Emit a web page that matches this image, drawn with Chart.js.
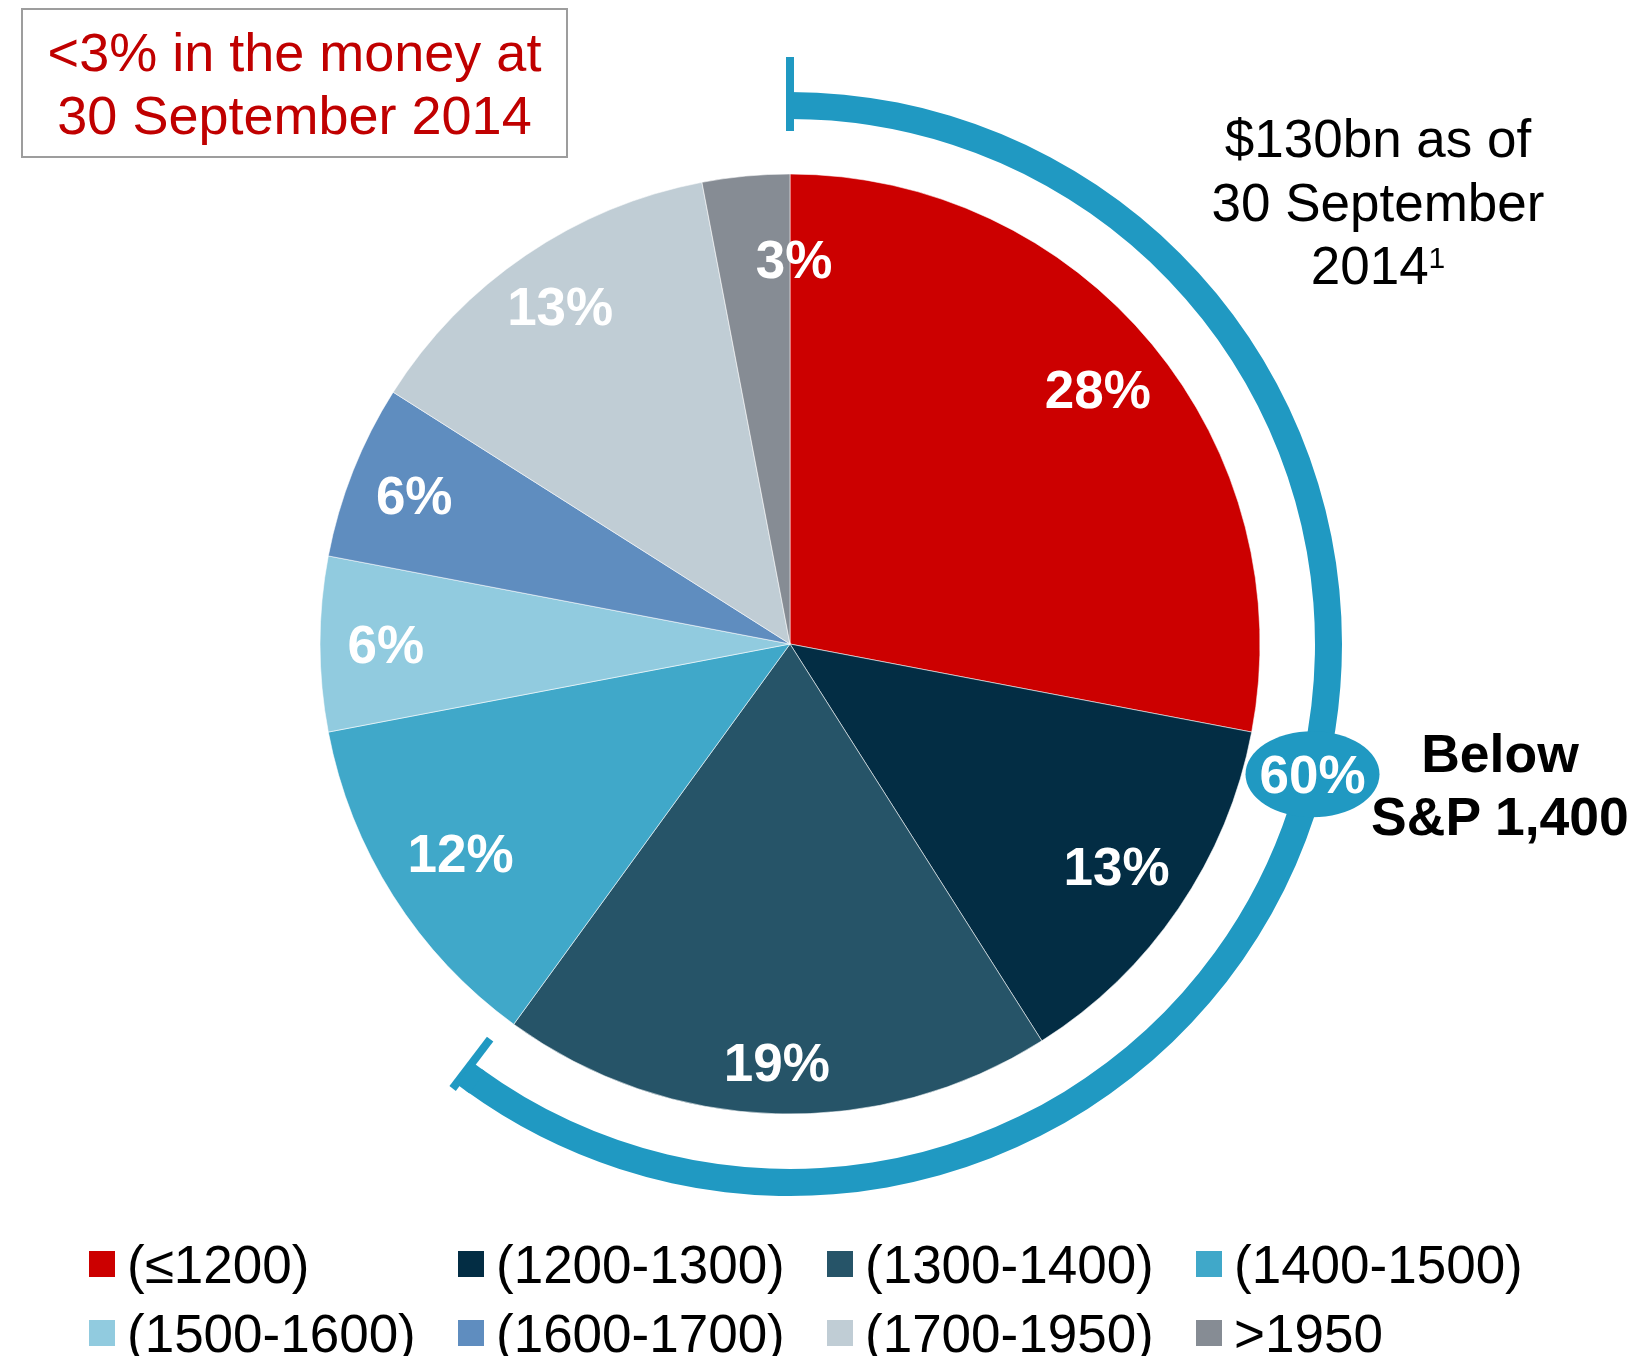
<!DOCTYPE html>
<html>
<head>
<meta charset="utf-8">
<script src="https://cdn.jsdelivr.net/npm/chart.js@4/dist/chart.umd.min.js"></script>
<style>
body{margin:0;background:#fff;font-family:"Liberation Sans",Arial,sans-serif;}
#wrap{position:relative;width:1639px;height:1356px;overflow:hidden;background:#fff;}
canvas{position:absolute;left:0;top:0;}
.note{position:absolute;text-align:center;font-size:53px;line-height:63px;white-space:nowrap;}
#box{position:absolute;left:21px;top:8px;width:547px;height:150px;box-sizing:border-box;border:2px solid #9d9d9d;}
.key{position:absolute;width:26px;height:26px;}
.keytxt{position:absolute;font-size:53px;line-height:63px;white-space:nowrap;color:#000;}
</style>
</head>
<body>
<div id="wrap">
  <canvas id="graph" width="1639" height="1356"></canvas>
  <div id="box"></div>
  <div class="note" style="left:21px;top:21px;width:547px;font-size:54px;color:#c00000;">&lt;3% in the money at<br>30 September 2014</div>
  <div class="note" style="left:1178px;top:107px;width:400px;line-height:63.5px;color:#000;">$130bn as of<br>30 September<br>2014<sup style="font-size:30px;line-height:0;vertical-align:16px;">1</sup></div>
  <div class="note" style="left:1300px;top:722px;width:400px;font-size:53.5px;font-weight:bold;color:#000;">Below<br>S&amp;P 1,400</div>
  <div id="legend"></div>
</div>
<script>
// S&P strike bands and share of notional (%)
var bands = ["(≤1200)", "(1200-1300)", "(1300-1400)", "(1400-1500)", "(1500-1600)", "(1600-1700)", "(1700-1950)", ">1950"];
var shares = [28, 13, 19, 12, 6, 6, 13, 3];
var belowShare = 60; // share below S&P 1,400
var colours = ["#cc0000", "#032d44", "#265468", "#40a8c9", "#91cbdf", "#5f8dbf", "#c0cdd5", "#868c94"];
var ringColour = "#2099c2";

// label placement (fraction of radius, angle nudge in degrees)
var labelRadius = [0.85, 0.84, 0.89, 0.83, 0.86, 0.86, 0.87, 0.82];
var labelNudge = [0, 0, 0, 0, 0, 0, 0, 6];

const pieLabels = {
  id: "pieLabels",
  afterDatasetsDraw(chart) {
    const ctx = chart.ctx;
    const meta = chart.getDatasetMeta(2);
    ctx.save();
    ctx.font = 'bold 53px "Liberation Sans", Arial, sans-serif';
    ctx.fillStyle = "#fff";
    ctx.textAlign = "center";
    ctx.textBaseline = "alphabetic";
    meta.data.forEach((arc, i) => {
      const p = arc.getProps(["x", "y", "startAngle", "endAngle", "outerRadius"]);
      const a = (p.startAngle + p.endAngle) / 2 + labelNudge[i] * Math.PI / 180;
      const r = p.outerRadius * labelRadius[i];
      ctx.fillText(shares[i] + "%", p.x + r * Math.cos(a), p.y + r * Math.sin(a) + 19);
    });
    ctx.restore();
  }
};

// end ticks and the 60% bubble on the outer ring
const ringMarks = {
  id: "ringMarks",
  afterDatasetsDraw(chart) {
    const ctx = chart.ctx;
    const arc = chart.getDatasetMeta(0).data[0];
    const p = arc.getProps(["x", "y", "startAngle", "endAngle", "innerRadius", "outerRadius"]);
    const mid = (p.innerRadius + p.outerRadius) / 2;
    const deg = Math.PI / 180;
    ctx.save();
    ctx.strokeStyle = ringColour;
    ctx.lineWidth = 8;
    [[p.startAngle, 550, 37], [p.endAngle + 1.2 * deg, 527, 31]].forEach(t => {
      const a = t[0];
      ctx.beginPath();
      ctx.moveTo(p.x + (t[1] - t[2]) * Math.cos(a), p.y + (t[1] - t[2]) * Math.sin(a));
      ctx.lineTo(p.x + (t[1] + t[2]) * Math.cos(a), p.y + (t[1] + t[2]) * Math.sin(a));
      ctx.stroke();
    });
    // close the small gap between ring end and its tick
    ctx.lineWidth = p.outerRadius - p.innerRadius;
    ctx.beginPath();
    ctx.arc(p.x, p.y, mid, p.endAngle - 0.5 * deg, p.endAngle + 1.2 * deg);
    ctx.stroke();
    const a = p.startAngle + (p.endAngle - p.startAngle) * (104 / 216);
    const cx = p.x + mid * Math.cos(a), cy = p.y + mid * Math.sin(a);
    ctx.fillStyle = ringColour;
    ctx.beginPath();
    ctx.ellipse(cx, cy, 67, 43, 0, 0, Math.PI * 2);
    ctx.fill();
    ctx.fillStyle = "#fff";
    ctx.font = 'bold 53px "Liberation Sans", Arial, sans-serif';
    ctx.textAlign = "center";
    ctx.fillText(belowShare + "%", cx, cy + 19);
    ctx.restore();
  }
};

const graph = new Chart("graph", {
  type: "doughnut",
  data: {
    labels: bands,
    datasets: [{
      data: [belowShare, 100 - belowShare],
      backgroundColor: [ringColour, "rgba(0,0,0,0)"],
      borderWidth: 0,
      weight: 27
    }, {
      data: [100],
      backgroundColor: ["rgba(0,0,0,0)"],
      borderWidth: 0,
      weight: 55
    }, {
      data: shares,
      backgroundColor: colours,
      borderColor: "rgba(255,255,255,0.55)",
      borderWidth: 1,
      weight: 470
    }]
  },
  options: {
    responsive: false,
    animation: false,
    events: [],
    cutout: 0,
    radius: 552,
    layout: { padding: { left: 0, top: 0, right: 59, bottom: 68 } },
    plugins: {
      legend: { display: false },
      tooltip: { enabled: false }
    }
  },
  plugins: [pieLabels, ringMarks]
});

// legend in a 4-column grid
var legend = document.getElementById("legend");
bands.forEach((b, i) => {
  var col = i % 4, row = Math.floor(i / 4);
  var left = 89 + 369 * col, top = 1251 + 69 * row;
  var sq = document.createElement("div");
  sq.className = "key";
  sq.style.left = left + "px";
  sq.style.top = top + "px";
  sq.style.background = colours[i];
  legend.appendChild(sq);
  var tx = document.createElement("div");
  tx.className = "keytxt";
  tx.style.left = (left + 38) + "px";
  tx.style.top = (top + 32 - 50) + "px";
  tx.textContent = b;
  legend.appendChild(tx);
});
</script>
</body>
</html>
